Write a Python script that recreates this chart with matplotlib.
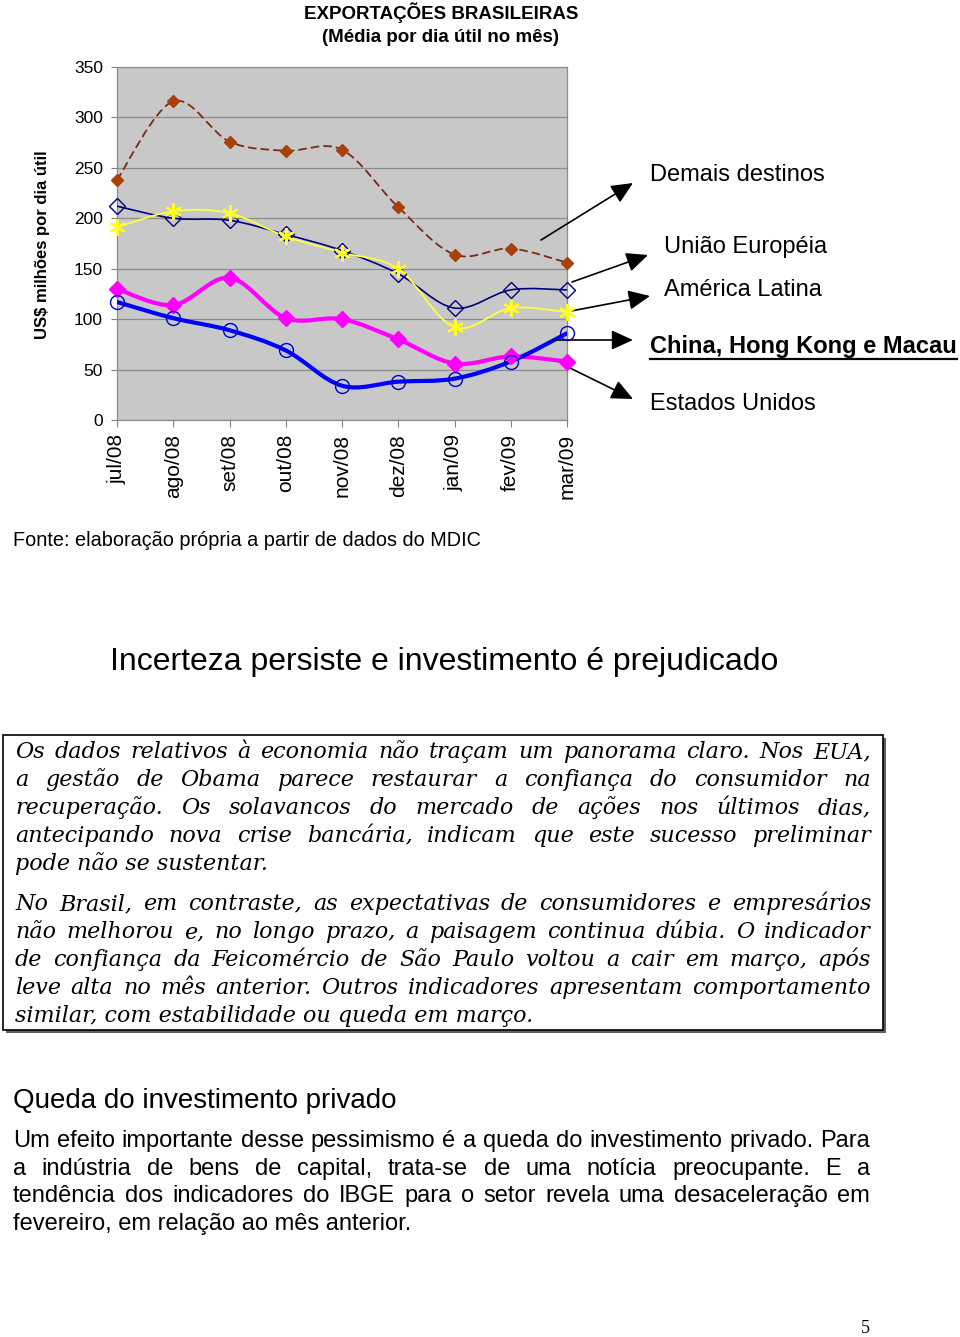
import numpy as np
import matplotlib.pyplot as plt
from matplotlib.path import Path
from matplotlib.patches import PathPatch, Rectangle
from matplotlib.lines import Line2D

W, H = 960, 1337

meses = ["jul/08", "ago/08", "set/08", "out/08", "nov/08", "dez/08", "jan/09", "fev/09", "mar/09"]
demais_destinos = [238, 316, 276, 267, 268, 211, 164, 170, 156]
uniao_europeia = [212, 200, 198, 184, 168, 145, 111, 129, 129]
america_latina = [191, 207, 205, 182, 166, 150, 92, 111, 107]
estados_unidos = [130, 114, 141, 101, 100, 80, 56, 63, 58]
china = [117, 101, 89, 69, 34, 38, 41, 58, 86]
y_ticks = [0, 50, 100, 150, 200, 250, 300, 350]

texto_box_1 = [
    "Os dados relativos à economia não traçam um panorama claro. Nos EUA,",
    "a gestão de Obama parece restaurar a confiança do consumidor na",
    "recuperação. Os solavancos do mercado de ações nos últimos dias,",
    "antecipando nova crise bancária, indicam que este sucesso preliminar",
    "pode não se sustentar.",
]
texto_box_2 = [
    "No Brasil, em contraste, as expectativas de consumidores e empresários",
    "não melhorou e, no longo prazo, a paisagem continua dúbia. O indicador",
    "de confiança da Feicomércio de São Paulo voltou a cair em março, após",
    "leve alta no mês anterior. Outros indicadores apresentam comportamento",
    "similar, com estabilidade ou queda em março.",
]
texto_queda = [
    "Um efeito importante desse pessimismo é a queda do investimento privado. Para",
    "a indústria de bens de capital, trata-se de uma notícia preocupante. E a",
    "tendência dos indicadores do IBGE para o setor revela uma desaceleração em",
    "fevereiro, em relação ao mês anterior.",
]

SANS = "Liberation Sans"


def smooth_path(x, y):
    p = np.column_stack([x, y]).astype(float)
    n = len(p)
    verts = [p[0]]
    codes = [Path.MOVETO]
    for i in range(n - 1):
        p0 = p[max(i - 1, 0)]
        p3 = p[min(i + 2, n - 1)]
        c1 = p[i] + (p[i + 1] - p0) / 6
        c2 = p[i + 1] - (p3 - p[i]) / 6
        verts += [c1, c2, p[i + 1]]
        codes += [Path.CURVE4] * 3
    return Path(verts, codes)


def ptext(x, y, s, **kw):
    return fig.text(x / W, 1 - y / H, s, **kw)


def justify(lines, x0, x1, y0, dy, **kw):
    r = fig.canvas.get_renderer()
    for k, line in enumerate(lines):
        y = y0 + k * dy
        if k == len(lines) - 1:
            ptext(x0, y, line, va="baseline", **kw)
            continue
        words = line.split()
        texts = [ptext(0, y, w, va="baseline", **kw) for w in words]
        widths = [t.get_window_extent(r).width for t in texts]
        gap = (x1 - x0 - sum(widths)) / (len(words) - 1)
        x = x0
        for t, w in zip(texts, widths):
            t.set_x(x / W)
            x += w + gap


fig = plt.figure(figsize=(W / 100, H / 100), dpi=100)
fig.patch.set_facecolor("white")

# ---- chart ----
ax = fig.add_axes([117 / W, 1 - 420 / H, 450 / W, 353 / H])
ax.set_facecolor("#C8C8C8")
xs = np.arange(len(meses))

series = [
    (demais_destinos, dict(color="#7A2A10", lw=1.3, ls=(0, (4, 3))),
     dict(marker="D", ms=6, mfc="#A8400C", mec="#A8400C")),
    (uniao_europeia, dict(color="#000080", lw=1.2, ls="-"),
     dict(marker="D", ms=8, mfc="none", mec="#000080", mew=1.0)),
    (america_latina, dict(color="#FFFF40", lw=1.3, ls="-"),
     dict(marker=(6, 2, 0), ms=12, mfc="none", mec="#FFFF20", mew=1.5)),
    (estados_unidos, dict(color="#FF00FF", lw=3.0, ls="-"),
     dict(marker="D", ms=8, mfc="#FF00FF", mec="#FF00FF")),
    (china, dict(color="#0000FF", lw=3.0, ls="-"),
     dict(marker="o", ms=10, mfc="none", mec="#0000CC", mew=1.0)),
]
for vals, lstyle, mstyle in series:
    patch = PathPatch(smooth_path(xs, vals), fill=False, edgecolor=lstyle["color"],
                      lw=lstyle["lw"], linestyle=lstyle["ls"], zorder=3,
                      capstyle="round", joinstyle="round")
    ax.add_patch(patch)
    ax.plot(xs, vals, ls="none", zorder=4, clip_on=False, **mstyle)

ax.set_xlim(0, len(meses) - 1)
ax.set_ylim(0, 350)
ax.set_yticks(y_ticks)
ax.set_yticklabels([str(v) for v in y_ticks], fontsize=12.5, family=SANS)
ax.set_xticks(xs)
ax.set_xticklabels(meses, rotation=90, fontsize=15, family=SANS)
ax.tick_params(axis="y", length=4, width=0.8, color="#808080", pad=6)
ax.tick_params(axis="x", length=5, width=0.8, color="#808080", pad=5)
ax.grid(axis="y", color="#8C8C8C", lw=0.9)
ax.set_axisbelow(True)
for side in ["left", "bottom", "right", "top"]:
    ax.spines[side].set_color("#8C8C8C")
    ax.spines[side].set_linewidth(0.9)

ptext(441, 13, "EXPORTAÇÕES BRASILEIRAS", ha="center", va="center",
      fontsize=13.5, fontweight="bold", family=SANS)
ptext(441, 37, "(Média por dia útil no mês)", ha="center", va="center",
      fontsize=13.5, fontweight="bold", family=SANS)
ptext(43, 245, "US$ milhões por dia útil", ha="center", va="center", rotation=90,
      fontsize=12, fontweight="bold", family=SANS)

# ---- arrows and labels ----
arrows = [
    ((541, 240), (633, 183)),
    ((572, 282), (648, 255)),
    ((571, 311), (650, 296)),
    ((553, 340), (633, 340)),
    ((570, 368), (633, 399)),
]
for (x0, y0), (x1, y1) in arrows:
    ax.annotate("", xy=(x1, H - y1), xytext=(x0, H - y0), xycoords="figure pixels",
                textcoords="figure pixels", annotation_clip=False,
                arrowprops=dict(arrowstyle="-|>,head_length=1.1,head_width=0.5",
                                mutation_scale=12, lw=1.2, color="black",
                                shrinkA=0, shrinkB=0))

ptext(650, 175, "Demais destinos", va="center", fontsize=17, family=SANS)
ptext(664, 247, "União Européia", va="center", fontsize=17, family=SANS)
ptext(664, 290, "América Latina", va="center", fontsize=17, family=SANS)
t_china = ptext(650, 347, "China, Hong Kong e Macau", va="center", fontsize=17,
                fontweight="bold", family=SANS)
ptext(650, 404, "Estados Unidos", va="center", fontsize=17, family=SANS)
rend = fig.canvas.get_renderer()
bb = t_china.get_window_extent(rend)
fig.add_artist(Line2D([bb.x0 / W, bb.x1 / W], [(H - 359) / H] * 2, color="black",
                      lw=1.6, transform=fig.transFigure))

# ---- text ----
ptext(13, 546, "Fonte: elaboração própria a partir de dados do MDIC", va="baseline",
      fontsize=14.3, family=SANS)
ptext(110, 670, "Incerteza persiste e investimento é prejudicado", va="baseline",
      fontsize=23, family=SANS)

fig.add_artist(Rectangle((6 / W, 1 - 1033 / H), 880 / W, 295 / H,
                         transform=fig.transFigure, facecolor="#606060",
                         edgecolor="none"))
fig.add_artist(Rectangle((3 / W, 1 - 1030 / H), 880 / W, 295 / H,
                         transform=fig.transFigure, facecolor="white",
                         edgecolor="black", lw=1.2))
serif = dict(fontsize=16, family="DejaVu Serif", style="italic")
justify(texto_box_1, 15, 871, 758, 28, **serif)
justify(texto_box_2, 15, 871, 910, 28, **serif)

ptext(13, 1108, "Queda do investimento privado", va="baseline", fontsize=20, family=SANS)
justify(texto_queda, 13, 870, 1147, 27.7, fontsize=17, family=SANS)

ptext(865, 1333, "5", ha="center", va="baseline", fontsize=13, family="Liberation Serif")

fig.savefig("out.png", dpi=100)
